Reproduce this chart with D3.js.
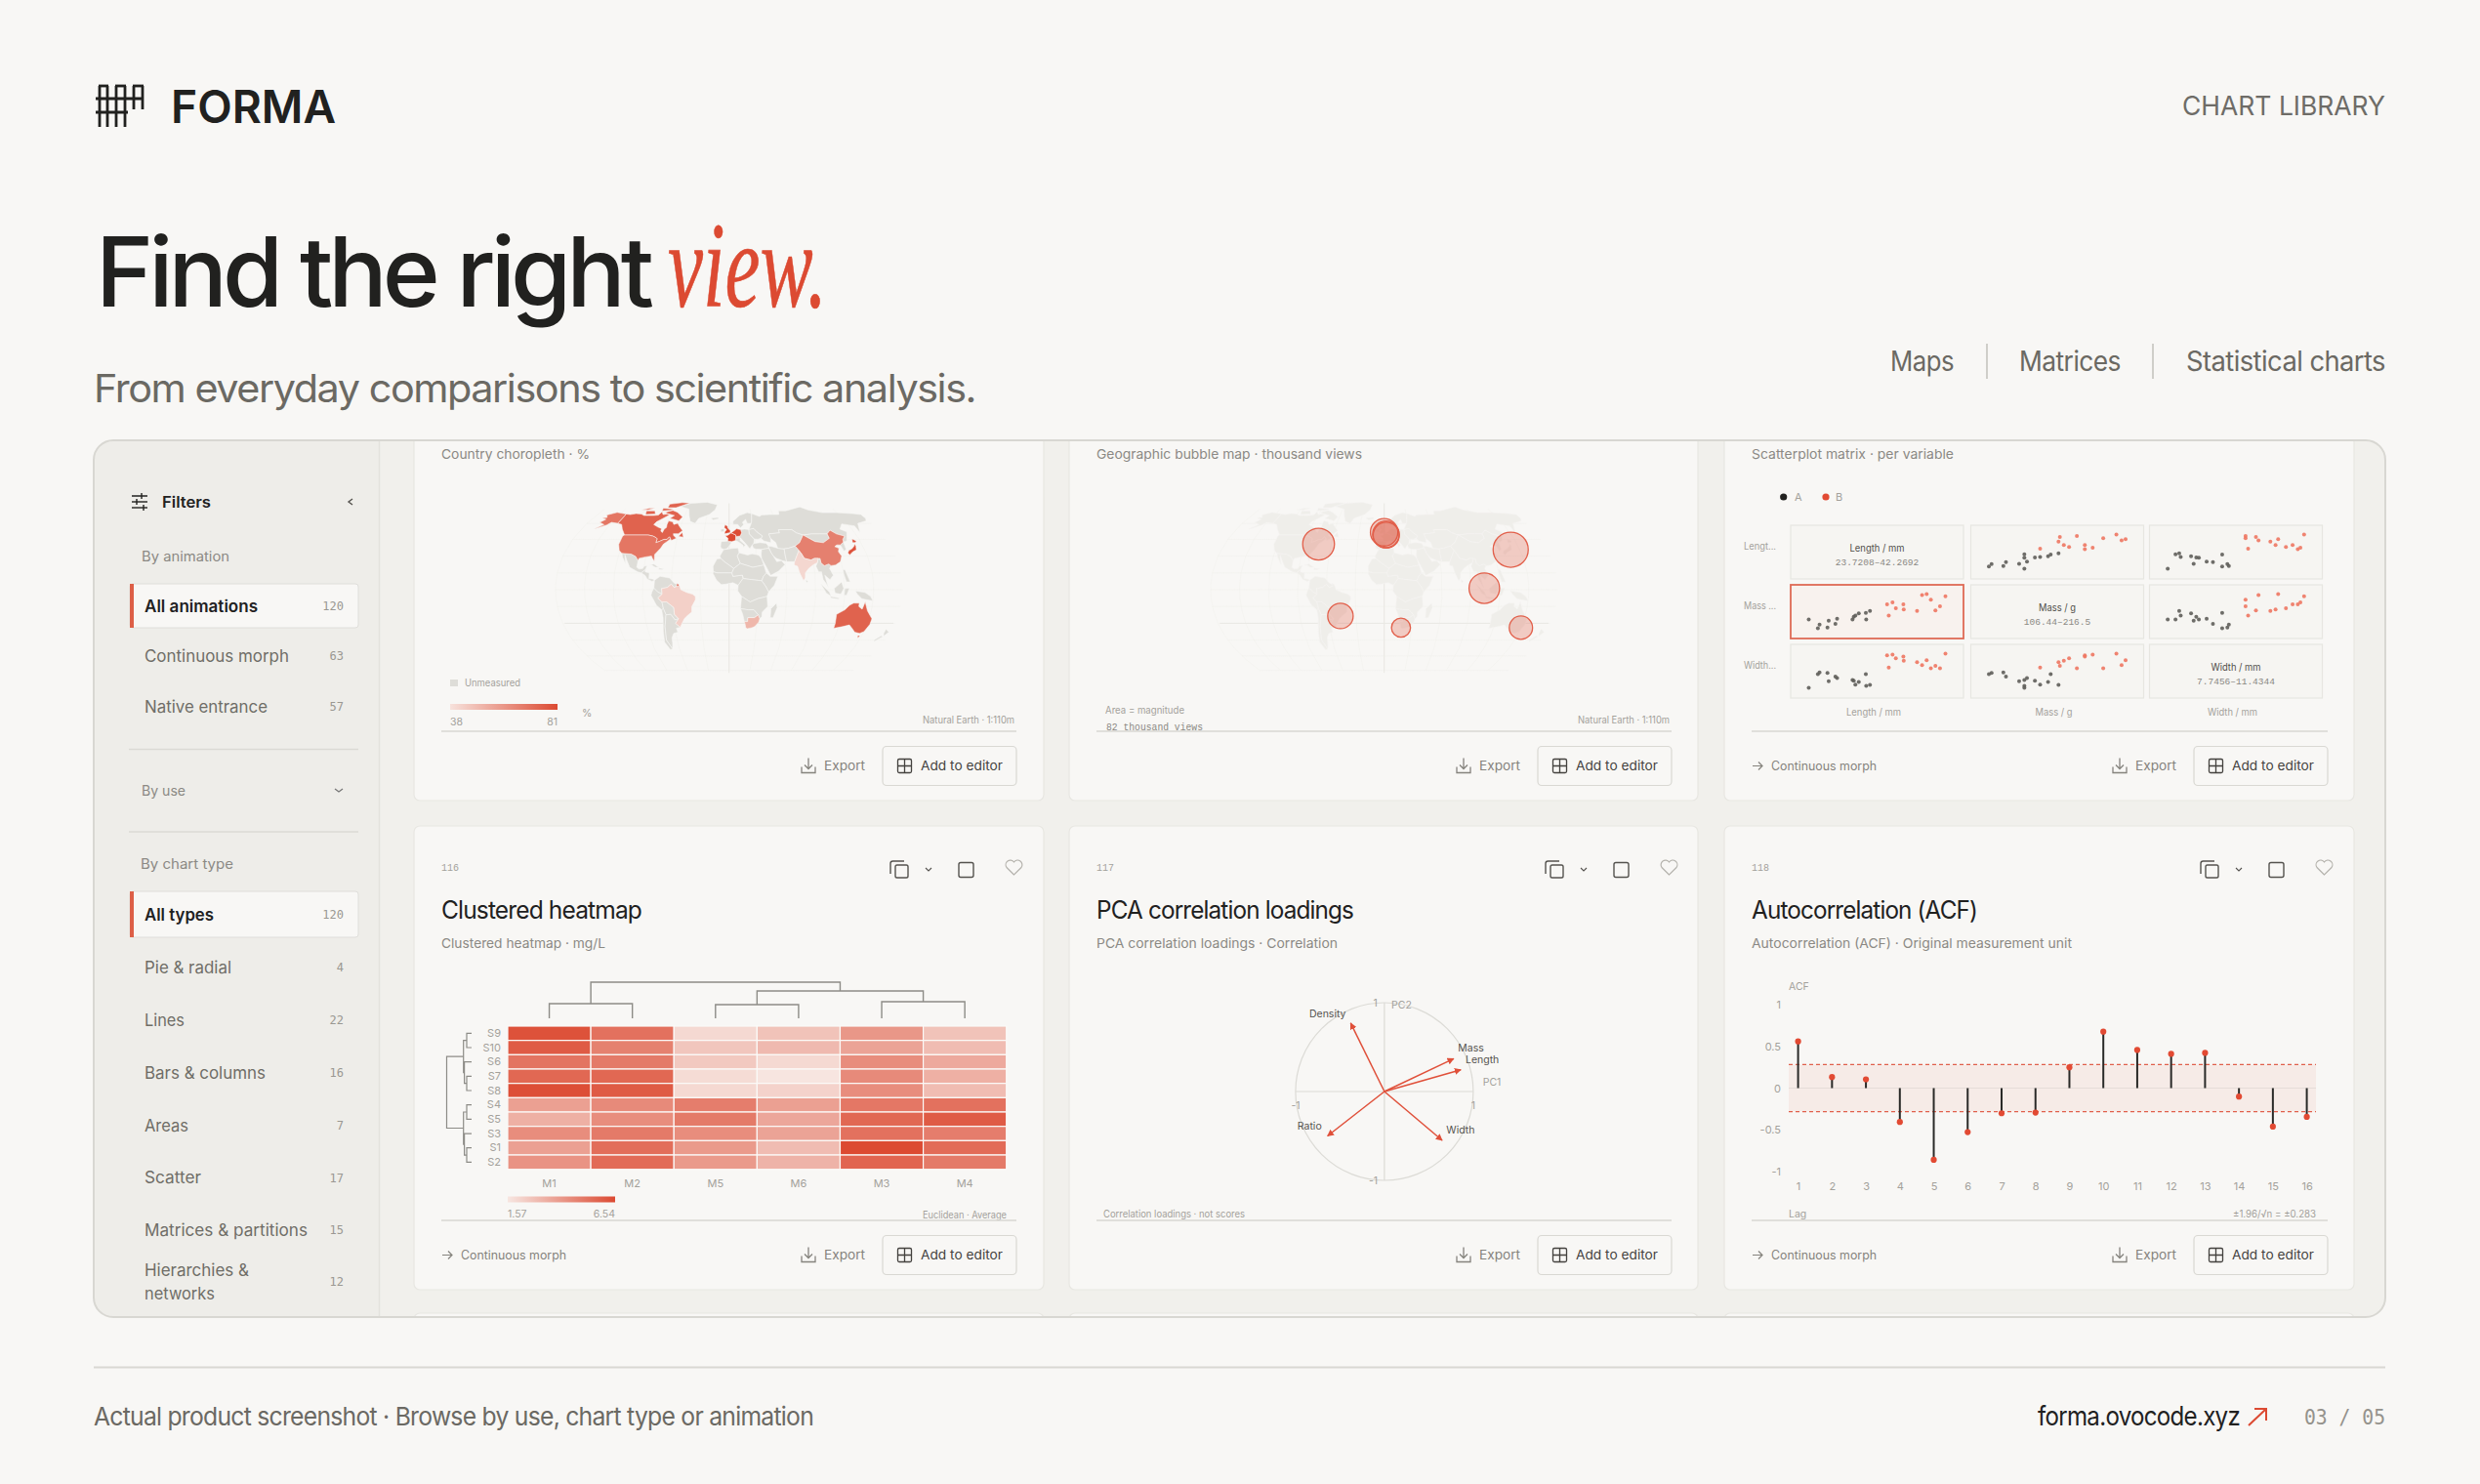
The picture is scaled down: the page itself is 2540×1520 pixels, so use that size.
<!DOCTYPE html>
<html><head><meta charset="utf-8">
<script src="https://cdn.jsdelivr.net/npm/d3@7/dist/d3.min.js"></script>
<style>html,body{margin:0;padding:0;background:#f8f7f5}svg{display:block}text{font-family:Inter,sans-serif}</style>
</head><body><div id="c"></div>
<script>
// ---------- DATA ----------
const sidebarAnimation=["All animations","Continuous morph","Native entrance"];
const sidebarAnimationCounts=[120,63,57];
const sidebarTypes=["All types","Pie & radial","Lines","Bars & columns","Areas","Scatter","Matrices & partitions"];
const sidebarTypeCounts=[120,4,22,16,7,17,15];
const navLinks=["Maps","Matrices","Statistical charts"];

// land rings, [lon,lat]
const canadaMain=[[-141,69.6],[-135,69],[-128,70],[-120,69.5],[-115,68],[-108,68],[-102,68],[-96,68.5],[-94,72],[-90,69],[-85,69.5],[-81,68.5],[-87,65],[-93,61.5],[-94.5,58.8],[-88,56.5],[-82.5,55],[-82,52.5],[-79.5,51.3],[-79,54.5],[-77,56],[-78,59],[-78,62.5],[-72,61.5],[-69.5,59],[-65,60.2],[-62,57.5],[-56,53],[-60,50.2],[-66,50.2],[-65,48.5],[-61,46],[-66,44],[-67.5,45.5],[-69.5,47.3],[-71.5,45],[-75,45],[-79,43.3],[-83,42],[-83,45.5],[-84.5,46.5],[-89,48],[-95,49],[-123,49],[-130,54.5],[-135,59],[-141,60]];
const baffin=[[-80,73.5],[-72,71.5],[-62,66.5],[-65,62.5],[-72,64],[-78,65],[-74,68],[-85,70],[-89,71.5]];
const victoriaIsland=[[-117,73],[-105,73],[-101,69.5],[-114,69]];
const ellesmere=[[-90,76.5],[-78,76.5],[-62,82.5],[-75,83],[-92,81]];
const devon=[[-96,76],[-80,75],[-84,73.5],[-95,73]];
const banks=[[-125,74],[-116,76],[-108,76],[-116,74]];
const newfoundland=[[-59,47.7],[-53,47],[-56,51.5]];
const usaMain=[[-123,49],[-95,49],[-89,48],[-84.5,46.5],[-83,45.5],[-83,42],[-79,43.3],[-75,45],[-71.5,45],[-69.5,47.3],[-67.5,45.5],[-70,43.5],[-74,40.7],[-76,37],[-81,31.5],[-80,25.5],[-82.5,28],[-84,30],[-90,29.3],[-97,28],[-97.5,26],[-101,29.7],[-106.5,31.8],[-117,32.5],[-121,35],[-124.3,40.5],[-124.5,48]];
const alaska=[[-141,69.6],[-156,71.3],[-166,68.5],[-162,66],[-168,65.5],[-161,64],[-165,61],[-157,58.8],[-165,54.5],[-153,58.5],[-150,61],[-141,60]];
const mexico=[[-117,32.5],[-106.5,31.8],[-101,29.7],[-97.5,26],[-97.5,20],[-95,18.5],[-91,19],[-90,21],[-87,21.5],[-88,18],[-92,15],[-96,16],[-105,20],[-109,25.5],[-113,31],[-112,28],[-110,23],[-115,29]];
const centralAmerica=[[-92,15],[-88,18],[-88,16],[-83.5,15],[-83.5,10],[-79,9.5],[-77.5,8.5],[-80,7.5],[-85,9.5],[-88,13]];
const cuba=[[-84.5,22],[-80,23],[-74.5,20.2],[-78,20],[-82,22]];
const hispaniola=[[-74,19.5],[-68.5,18.5],[-71,18],[-74,18.2]];
const greenland=[[-73,78],[-60,82],[-35,83.5],[-18,80],[-20,74],[-27,69],[-40,65],[-43,60],[-50,62],[-54,68],[-58,75]];
const brazil=[[-69.5,-4],[-70,1],[-64,2],[-60,5],[-57,2],[-51.5,4],[-50,0],[-44,-2.5],[-38,-4],[-35,-6],[-35,-9],[-39,-15],[-39.5,-20],[-44,-23],[-48,-26],[-53.5,-33.5],[-58,-30],[-54,-26],[-58,-22],[-58,-16],[-65,-11],[-70,-11],[-74,-7.5]];
const northSouthAmerica=[[-77.5,8.5],[-72,12],[-62,10.5],[-57,6],[-51.5,4],[-57,2],[-60,5],[-64,2],[-70,1],[-69.5,-4],[-74,-2],[-78,1.5]];
const frenchGuiana=[[-54,5.7],[-51.6,4.2],[-52.8,2.2],[-54.5,2.4]];
const peruEcuador=[[-78,1.5],[-74,-2],[-69.5,-4],[-74,-7.5],[-70,-11],[-69,-17],[-71,-18],[-76,-14],[-81,-5],[-80,-2]];
const boliviaParaguay=[[-70,-11],[-65,-11],[-58,-16],[-58,-22],[-54,-26],[-58,-27],[-62,-22],[-67,-22.5],[-69,-17]];
const chile=[[-69,-17],[-67,-22.5],[-70,-33],[-72,-45],[-68,-53],[-71,-54],[-75,-47],[-73,-37],[-70.5,-25],[-71,-18]];
const argentina=[[-67,-22.5],[-62,-22],[-58,-27],[-54,-26],[-58,-30],[-53.5,-33.5],[-58,-34.5],[-57,-38],[-62,-39],[-65,-43],[-66,-48],[-68,-53],[-72,-45],[-70,-33]];
const maghreb=[[-6,35.8],[3,36.8],[10,37.3],[11,33],[9,30],[12,23.5],[5,19],[-5,25],[-9,28],[-10,30]];
const sahel=[[-9,28],[-5,25],[5,19],[3,15],[-5,15],[-12,15],[-16.5,16],[-17,21],[-13,27.5]];
const westAfrica=[[-16.5,16],[-12,15],[-5,15],[3,15],[4,12],[14,13],[14.5,10],[9.5,4],[4,6.3],[-3,5],[-8,4.5],[-13,8.5],[-17,14.7]];
const libyaEgypt=[[11,33],[20,31],[25,32],[32,31],[35,28],[37,22],[25,20],[14,23],[12,23.5],[9,30]];
const chadSudan=[[5,19],[12,23.5],[14,23],[25,20],[37,22],[39,15],[36,12],[34,8],[24,9],[15,10],[14,13],[4,12],[3,15]];
const horn=[[39,15],[43,12],[51,12],[47,4],[41,-2],[38,3],[34,8],[36,12]];
const centralAfrica=[[9.5,4],[14.5,10],[15,10],[24,9],[34,8],[38,3],[41,-2],[39.5,-6],[30,-8],[22,-11],[13,-6],[9,-1]];
const southCentralAfrica=[[13,-6],[22,-11],[30,-8],[39.5,-6],[40.5,-15],[35,-20],[35,-24],[32.9,-26],[31,-22.5],[26,-18],[20,-18],[12,-17]];
const namibiaBotswana=[[12,-17],[20,-18],[26,-18],[31,-22.5],[27,-25],[20,-25],[20,-28.5],[16.5,-28.5],[14.5,-22]];
const southAfrica=[[16.5,-28.5],[20,-28.5],[20,-25],[27,-25],[31,-22.5],[32.9,-26],[32,-29],[28,-33],[25,-34],[20,-34.8],[18.3,-34],[17.5,-31]];
const madagascar=[[49.5,-12],[50.5,-16],[47,-25],[44,-25],[44,-17]];
const iberia=[[-9,43],[-2,43.5],[3,42.3],[0,39],[-2,36.8],[-5.5,36],[-9,37],[-9.5,39]];
const france=[[-1.5,43.5],[-1.2,46],[-4.7,48.4],[-1.5,48.7],[2.5,51],[8,49],[7.5,44],[3,43]];
const britain=[[-5.5,50],[1.5,51.2],[1.5,53],[-1.5,55.5],[-2,57.5],[-5,58.6],[-6,56],[-3,54],[-5,52]];
const ireland=[[-10,52],[-6,52.2],[-6,55],[-10,54.3]];
const iceland=[[-24,65.5],[-14,66],[-14,64.5],[-21,63.5]];
const germany=[[2.5,51],[7,53.5],[9,54.8],[14,54],[15,51],[13,48],[8,47.5],[8,49]];
const italy=[[7.5,44],[8,46.3],[13,46.5],[12.5,44],[18.3,40],[16,38],[15.5,40],[11,42.5]];
const eastEurope=[[14,54],[19,54.5],[24,54],[24,50],[29,45.3],[28,41.3],[26,40],[23,36.5],[20,40],[13,46.5],[8,46.3],[8,47.5],[13,48],[15,51]];
const scandinavia=[[5,59],[5,62],[14,68],[25,71],[31,70],[29,62],[28,60],[23,60],[21.5,64],[17,61],[18.5,59],[14,55.5],[11,59]];
const russia=[[28,60],[29,62],[31,70],[41,67],[44,68.5],[55,69],[68,69],[70,73],[80,73],[105,77.5],[113,74],[130,71],[150,71],[170,70],[180,69],[180,65],[177,62.5],[163,60],[156,51],[156,57.5],[142,59.5],[135,54.5],[141,52],[135,44],[131,42.5],[131,45],[135,48],[127,50],[122,53.5],[116,50],[107,50],[98,50],[87,49],[80,51],[76,54],[60,54],[60,51],[47,50],[48,46],[47.5,42],[40,43.5],[37,46],[39,48],[33,52],[30,55],[24,54]];
const ukraineBelarus=[[24,54],[30,55],[33,52],[39,48],[37,46],[33,45],[29,45.3],[24,50]];
const turkey=[[26,40],[28,41.3],[35,42],[42,41.5],[44,39],[44,37],[36,36],[30,36.2],[27,37]];
const iran=[[44,39],[48,38.5],[54,37],[61,36.5],[61,30],[61.5,25],[57,26],[51,28],[48,30],[46,33],[44.5,37]];
const arabia=[[36,36],[44,37],[46,33],[48,30],[51,25],[56,26],[59.5,22.5],[52,16.5],[43.5,12.8],[39,21],[35,28],[35,32]];
const centralAsia=[[47,50],[60,51],[60,54],[76,54],[80,51],[87,49],[80,42],[74,39],[66,37],[61,36.5],[54,37],[53,42],[48,46]];
const pakistanAfghan=[[61,36.5],[66,37],[74,39],[77,35],[74,31],[70,25],[67,25],[61.5,25],[61,30]];
const india=[[74,31],[77,35],[79,32],[81,28],[88,26.5],[92,28],[96,28],[94,24],[91,23],[89,22],[84,19],[80,15],[79.5,10.5],[77.5,8],[74,15],[72.5,21],[69,22],[70,25]];
const china=[[74,39],[80,42],[87,49],[98,43],[107,42],[116,46],[116,50],[122,53.5],[127,50],[135,48],[131,45],[130,42.5],[125,40],[121,40],[118,38.5],[122,37],[120,34],[122,30],[119,25],[113,22],[108,21.5],[106,23],[101,21.5],[98,24],[98,28],[92,28],[88,26.5],[81,28],[79,32],[77,35]];
const mongolia=[[87,49],[98,50],[107,50],[116,50],[116,46],[107,42],[98,43]];
const southeastAsia=[[92,21],[94,24],[96,28],[98,28],[98,24],[101,21.5],[106,23],[108,21.5],[106,19],[109,13],[105,9],[100,13],[103,2],[100.5,6],[98,9],[97,16],[94,16]];
const korea=[[125,40],[130,42.5],[129.5,36],[126.5,34.5]];
const honshu=[[130,33],[132,35],[136,36.5],[140,39],[141.5,41],[142,39],[140.5,35.5],[136,34],[131,31]];
const hokkaido=[[140,42],[142,45.5],[145.5,43.5],[143,42]];
const sumatra=[[95,5.5],[104,-2],[106,-6],[101,-3]];
const java=[[105,-6],[114.5,-7.5],[114,-8.5],[106,-7.5]];
const borneo=[[109,1],[117,7],[119,1],[116,-4],[110,-3]];
const sulawesi=[[120,1],[125,1.5],[122,-5],[119.5,-5]];
const newGuinea=[[131,-1],[141,-2.5],[147,-6],[150,-10],[143,-9],[138,-8],[133,-4]];
const philippines=[[120,18],[122,18],[124,12],[126,7],[122,7],[120,14]];
const sriLanka=[[80,9.5],[82,7.5],[80.5,6]];
const australia=[[114,-22],[122,-18],[126,-14],[130,-12],[136,-12],[136,-15],[140,-17.5],[142,-11],[146,-19],[153,-26],[153,-31],[150,-37.5],[146,-39],[140,-38],[136,-35],[131,-31.5],[124,-33],[115,-34.5],[115,-30]];
const tasmania=[[145,-41],[148,-41],[147,-43.5]];
const nzNorth=[[173,-35],[178,-38],[175,-41.5],[173,-39]];
const nzSouth=[[172,-41],[174,-42],[168,-46.5],[167,-45]];
const unmeasuredRings=[greenland,mexico,centralAmerica,cuba,hispaniola,northSouthAmerica,peruEcuador,boliviaParaguay,chile,argentina,maghreb,sahel,westAfrica,libyaEgypt,chadSudan,horn,centralAfrica,southCentralAfrica,namibiaBotswana,madagascar,iberia,ireland,iceland,italy,eastEurope,scandinavia,russia,ukraineBelarus,turkey,iran,arabia,centralAsia,pakistanAfghan,mongolia,southeastAsia,korea,sumatra,java,borneo,sulawesi,newGuinea,philippines,sriLanka,nzNorth,nzSouth];
const measuredNames=["Canada","USA","UK","France","Germany","China","India","Brazil","South Africa","Japan","Australia"];
const measuredValues=[74,69,81,81,80,66,42,44,51,79,74];
const measuredRings=[[canadaMain,baffin,victoriaIsland,ellesmere,devon,banks,newfoundland],[usaMain,alaska],[britain],[france,frenchGuiana],[germany],[china],[india],[brazil],[southAfrica],[honshu,hokkaido],[australia,tasmania]];

const bubbleCities=["New York","London","Paris","Amsterdam","Tokyo","Singapore","São Paulo","Cape Town","Sydney"];
const bubbleLon=[-74,-0.1,2.35,2,139.7,103.8,-46.6,18.4,150];
const bubbleLat=[40.7,51.5,48.85,49.6,35.7,1.35,-23.5,-33.9,-33.9];
const bubbleViews=[67,50,45,47,82,62,43,24,36];

const splomVars=["Length / mm","Mass / g","Width / mm"];
const splomShort=["Lengt...","Mass ...","Width..."];
const splomRanges=["23.7208–42.2692","106.44–216.5","7.7456–11.4344"];
const splomGroups=["A","A","A","A","A","A","A","A","A","A","A","A","A","A","B","B","B","B","B","B","B","B","B","B","B","B","B"];
const lengthVals=[23.72,25.19,24.96,26.43,26.26,27.57,27.34,29.66,29.83,30.05,30.51,31.47,32.03,31.52,34.35,35.09,34.58,35.54,36.56,36.61,38.42,39.10,39.72,40.29,42.27,41.53,40.91];
const massVals=[135,118.1,106.44,130.8,108.6,137.1,120.2,135,143.5,147.7,154.1,156.2,162.5,135,183.7,190,147.7,171,183.7,166.8,162.5,213.3,216.5,198.5,209.1,177.3,163.6];
const widthVals=[7.75,9.4,9.22,8.45,9.36,8.8,8.97,8.59,8.52,8.1,8.38,9.22,8.06,7.96,11.26,11.33,9.92,10.94,11.12,10.66,10.52,10.2,10.73,9.85,11.43,9.85,10.13];
const splomDomains=[[23.7208,42.2692],[106.44,216.5],[7.7456,11.4344]];

const heatCols=["M1","M2","M5","M6","M3","M4"];
const heatRows=["S9","S10","S6","S7","S8","S4","S5","S3","S1","S2"];
const heatValues=[
[6.3,5.3,2.0,2.7,4.1,2.7],
[6.0,4.8,2.6,3.0,3.7,2.9],
[5.2,5.0,2.5,2.0,4.4,3.5],
[5.6,5.6,1.9,1.6,4.5,3.3],
[6.4,6.0,2.0,2.2,4.4,2.9],
[3.8,4.5,4.9,3.8,5.1,5.3],
[3.3,4.4,5.0,3.6,5.6,6.0],
[4.4,5.0,4.4,3.7,5.3,4.9],
[3.8,5.4,4.0,2.9,6.54,5.5],
[4.2,5.5,4.0,3.2,5.7,5.0]];
const colTree={h:3.7,k:[{h:1.5,k:["M1","M2"]},{h:2.8,k:[{h:1.4,k:["M5","M6"]},{h:1.7,k:["M3","M4"]}]}]};
const rowTree={h:25.5,k:[{h:8.3,k:[{h:5,k:["S9","S10"]},{h:7.4,k:["S6",{h:5,k:["S7","S8"]}]}]},{h:8.3,k:[{h:5,k:["S4","S5"]},{h:7.4,k:["S3",{h:5,k:["S1","S2"]}]}]}]};

const pcaVars=["Density","Mass","Length","Ratio","Width"];
const pcaPC1=[-0.38,0.78,0.86,-0.64,0.65];
const pcaPC2=[0.77,0.37,0.245,-0.50,-0.55];

const acfLags=[1,2,3,4,5,6,7,8,9,10,11,12,13,14,15,16];
const acfValues=[0.559,0.133,0.105,-0.406,-0.859,-0.527,-0.301,-0.293,0.25,0.676,0.457,0.41,0.422,-0.102,-0.461,-0.344];
const acfLimit=0.283;
const acfTicks=[1,0.5,0,-0.5,-1];

// ---------- HELPERS ----------
const INK="#21211f",GREY="#6f6d67",MID="#8b8984",SOFT="#a3a19b",RED="#dc4a32",LINE="#d9d8d3";
const MONO="'DejaVu Sans Mono',monospace",MONO2="'Liberation Mono',monospace";
const svg=d3.select("#c").append("svg").attr("width",2540).attr("height",1520).attr("viewBox","0 0 2540 1520");
const defs=svg.append("defs");
function T(g,x,y,s,o={}){
  const t=g.append("text").attr("x",x).attr("y",y).text(s)
    .attr("font-size",o.size||13).attr("fill",o.fill||GREY).attr("font-weight",o.w||400)
    .attr("text-anchor",o.anchor||"start");
  if(o.fam)t.style("font-family",o.fam);
  if(o.c)t.attr("dy",".36em");
  if(o.italic)t.attr("font-style","italic");
  if(o.ls)t.style("letter-spacing",o.ls);
  if(o.len)t.attr("textLength",o.len).attr("lengthAdjust","spacingAndGlyphs");
  return t;
}
function styleAxis(a,size,fill){
  a.select(".domain").remove();a.selectAll(".tick line").remove();
  a.selectAll("text").attr("font-size",size).attr("fill",fill).style("font-family","Inter,sans-serif");
}
function gradient(id,a,b){const g=defs.append("linearGradient").attr("id",id);g.append("stop").attr("offset",0).attr("stop-color",a);g.append("stop").attr("offset",1).attr("stop-color",b);}
gradient("mapRamp","#f7e2dc","#dc4a32");gradient("heatRamp","#f7e6e1","#dc4a32");

// ---------- PAGE ----------
svg.append("rect").attr("width",2540).attr("height",1520).attr("fill","#f8f7f5");
// logo
const logo=svg.append("g").attr("stroke",INK).attr("stroke-width",2.8).attr("fill","none");
[102,110,119,128].forEach(x=>logo.append("line").attr("x1",x).attr("x2",x).attr("y1",88).attr("y2",130));
[137,146].forEach(x=>logo.append("line").attr("x1",x).attr("x2",x).attr("y1",88).attr("y2",112));
[[102,110],[119,128],[137,146]].forEach(p=>logo.append("line").attr("x1",p[0]-1).attr("x2",p[1]+1).attr("y1",88).attr("y2",88));
logo.append("line").attr("x1",98).attr("x2",147).attr("y1",101).attr("y2",101);
logo.append("line").attr("x1",98).attr("x2",131).attr("y1",115).attr("y2",115);
T(svg,175,126,"FORMA",{size:47,w:600,fill:INK,len:169});
T(svg,2443,118,"CHART LIBRARY",{size:27,anchor:"end",fill:"#6e6c67",len:208});
T(svg,98,314,"Find the right",{size:99,w:500,fill:INK,ls:"-0.05em",len:567});
T(svg,684,314,"view.",{size:124,fill:RED,italic:true,fam:"'Liberation Serif',serif",len:163}).attr("stroke",RED).attr("stroke-width",.6);
T(svg,96,412,"From everyday comparisons to scientific analysis.",{size:40,fill:"#6b6963",ls:"-0.035em",len:903});
const navX=[1936,2068,2239],navW=[65,104,204];
navLinks.forEach((n,i)=>T(svg,navX[i],380,n,{size:28,fill:"#6b6963",ls:"-0.02em",len:navW[i]}));
[2035,2205].forEach(x=>svg.append("line").attr("x1",x).attr("x2",x).attr("y1",352).attr("y2",388).attr("stroke","#cfcec9").attr("stroke-width",2));
// footer
svg.append("line").attr("x1",96).attr("x2",2443).attr("y1",1400.5).attr("y2",1400.5).attr("stroke",LINE).attr("stroke-width",2);
T(svg,96,1460,"Actual product screenshot · Browse by use, chart type or animation",{size:26,fill:"#6b6963",ls:"-0.03em",len:737});
T(svg,2087,1460,"forma.ovocode.xyz",{size:27,fill:INK,ls:"-0.03em",len:207});
svg.append("path").attr("d","M2303 1460L2321 1443M2309 1443H2321V1455").attr("fill","none").attr("stroke",RED).attr("stroke-width",2);
T(svg,2443,1459,"03 / 05",{size:22,anchor:"end",fill:"#94928c",fam:MONO,len:83});

// panel
defs.append("clipPath").attr("id","panelClip").append("rect").attr("x",96).attr("y",451).attr("width",2347).attr("height",898).attr("rx",20);
svg.append("rect").attr("x",96).attr("y",451).attr("width",2347).attr("height",898).attr("rx",20).attr("fill","#f1f0ec");
const P=svg.append("g").attr("clip-path","url(#panelClip)");
P.append("rect").attr("x",96).attr("y",451).attr("width",292).attr("height",898).attr("fill","#eeede9");
P.append("line").attr("x1",388.5).attr("x2",388.5).attr("y1",451).attr("y2",1349).attr("stroke","#e3e2dd").attr("stroke-width",1.5);

// sidebar
const SB=P.append("g");
const fi=SB.append("g").attr("stroke",INK).attr("stroke-width",1.4).attr("fill","none");
[[508,135,151,145],[514,135,151,140],[520,135,151,147]].forEach(r=>{fi.append("line").attr("x1",r[1]).attr("x2",r[2]).attr("y1",r[0]).attr("y2",r[0]);fi.append("line").attr("x1",r[3]).attr("x2",r[3]).attr("y1",r[0]-3).attr("y2",r[0]+3);});
T(SB,166,514,"Filters",{size:16,w:600,fill:INK,c:1,len:50});
SB.append("path").attr("d","M361 511L357 514L361 517").attr("fill","none").attr("stroke","#55534f").attr("stroke-width",1.4);
T(SB,145,570,"By animation",{size:14,fill:MID,c:1,len:90});
function activeRow(cy,h,label,count,len){
  SB.append("rect").attr("x",133).attr("y",cy-h/2).attr("width",234).attr("height",h).attr("rx",3).attr("fill","#f8f7f5").attr("stroke","#dfdeda");
  SB.append("rect").attr("x",133).attr("y",cy-h/2).attr("width",4).attr("height",h).attr("fill","#dd5f47");
  T(SB,148,cy,label,{size:17,w:600,fill:INK,c:1,len});
  T(SB,352,cy,count,{size:12,anchor:"end",fill:"#9a9892",c:1,fam:MONO});
}
function plainRow(cy,label,count,len){
  T(SB,148,cy,label,{size:17,fill:GREY,c:1,len});
  T(SB,352,cy,count,{size:12,anchor:"end",fill:"#9a9892",c:1,fam:MONO});
}
const animLen=[116,148,126];
sidebarAnimation.forEach((s,i)=>{const y=i==0?620.5:672+(i-1)*51.5;
  i==0?activeRow(y,45,s,sidebarAnimationCounts[i],animLen[i]):plainRow(y,s,sidebarAnimationCounts[i],animLen[i]);});
[767.5,852].forEach(y=>SB.append("line").attr("x1",132).attr("x2",367).attr("y1",y).attr("y2",y).attr("stroke","#dbdad5").attr("stroke-width",1.5));
T(SB,145,810,"By use",{size:14,fill:MID,c:1,len:45});
SB.append("path").attr("d","M343 808L347 811L351 808").attr("fill","none").attr("stroke","#777").attr("stroke-width",1.3);
T(SB,144,885,"By chart type",{size:14,fill:MID,c:1,len:95});
const typeLen=[71,89,41,124,45,58,167];
sidebarTypes.forEach((s,i)=>{const y=i==0?936.5:991+(i-1)*53.8;
  i==0?activeRow(y,47,s,sidebarTypeCounts[i],typeLen[i]):plainRow(y,s,sidebarTypeCounts[i],typeLen[i]);});
T(SB,148,1301,"Hierarchies &",{size:17,fill:GREY,c:1,len:107});
T(SB,148,1325,"networks",{size:17,fill:GREY,c:1,len:72});
T(SB,352,1313,"12",{size:12,anchor:"end",fill:"#9a9892",c:1,fam:MONO});

// cards
function card(x,y0,x1,y1){
  P.append("rect").attr("x",x).attr("y",y0).attr("width",x1-x).attr("height",y1-y0).attr("rx",6).attr("fill","#f8f7f5").attr("stroke","#e8e7e2").attr("stroke-width",1.2);
}
const cardL=[424,1095,1766],cardR=[1069,1739,2411];
cardL.forEach((x,i)=>{card(x,430,cardR[i],820);card(x,846,cardR[i],1321);card(x,1345,cardR[i],1400);});

function footer(left,right,y,morph){
  const bw=137,bl=right-bw,cy=y+35.5;
  P.append("line").attr("x1",left).attr("x2",right).attr("y1",y).attr("y2",y).attr("stroke","#d8d7d2").attr("stroke-width",1.4);
  P.append("rect").attr("x",bl).attr("y",y+15.5).attr("width",bw).attr("height",40).attr("rx",4).attr("fill","#f8f7f5").attr("stroke","#d9d8d3").attr("stroke-width",1.2);
  const g=P.append("g").attr("fill","none").attr("stroke","#44423f").attr("stroke-width",1.3);
  g.append("rect").attr("x",bl+15.5).attr("y",cy-7).attr("width",14).attr("height",14).attr("rx",1.5);
  g.append("path").attr("d",`M${bl+22.5} ${cy-7}V${cy+7}M${bl+15.5} ${cy}H${bl+29.5}`);
  T(P,bl+39,cy,"Add to editor",{size:13,fill:"#44423f",c:1,len:84});
  const e=P.append("g").attr("fill","none").attr("stroke","#85837d").attr("stroke-width",1.3);
  e.append("path").attr("d",`M${bl-83} ${cy+1}v6h14v-6M${bl-76} ${cy-8}v11M${bl-80} ${cy-1}l4 4l4-4`);
  T(P,bl-60,cy,"Export",{size:13,fill:"#85837d",c:1,len:42});
  if(morph){
    const a=P.append("g").attr("fill","none").attr("stroke","#85837d").attr("stroke-width",1.2);
    a.append("path").attr("d",`M${left+1} ${cy}h10M${left+7} ${cy-4}l4 4l-4 4`);
    T(P,left+20,cy,"Continuous morph",{size:12.5,fill:"#85837d",c:1,len:108});
  }
}
function head(cardX,left,num,title,tLen,sub,sLen){
  T(P,left,888,num,{size:11,fill:SOFT,c:1,fam:MONO2,len:18});
  T(P,left,941,title,{size:25,fill:INK,ls:"-0.035em",len:tLen});
  T(P,left,971,sub,{size:13.5,fill:MID,len:sLen});
  const g=P.append("g").attr("fill","none").attr("stroke","#55534f").attr("stroke-width",1.4);
  g.append("rect").attr("x",cardX+493).attr("y",886).attr("width",13).attr("height",13).attr("rx",1.8);
  g.append("path").attr("d",`M${cardX+488} 895V884.5a2.5 2.5 0 0 1 2.5-2.5H${cardX+502}`);
  g.append("path").attr("d",`M${cardX+524} 889l3 3l3-3`).attr("stroke-width",1.1);
  g.append("rect").attr("x",cardX+558).attr("y",883.5).attr("width",15).attr("height",15).attr("rx",2);
  const hx=cardX+614.5;
  P.append("path").attr("d",`M${hx} 896l-7.5-7.5a4.6 4.6 0 0 1 7.5-5.5a4.6 4.6 0 0 1 7.5 5.5z`).attr("fill","none").attr("stroke","#b5b3ad").attr("stroke-width",1.2);
}

// -------- Maps --------
function mapGroup(cx){
  const proj=d3.geoNaturalEarth1().scale(65).translate([cx,604]);
  const path=d3.geoPath(proj);
  const g=P.append("g");
  g.append("path").attr("d",path(d3.geoGraticule().step([30,15]).extent([[-180,-75],[180,75]])()))
    .attr("fill","none").attr("stroke","#eeede8").attr("stroke-width",.6).attr("opacity",.6);
  const line=d3.line();
  g.append("path").attr("d",line([proj([-178,-30]),proj([178,-30])])).attr("fill","none").attr("stroke","#e9e8e3").attr("stroke-width",1);
  g.append("path").attr("d",line([proj([0,-78]),proj([0,82])])).attr("fill","none").attr("stroke","#e9e8e3").attr("stroke-width",1);
  const ringPath=r=>line(r.map(proj))+"Z";
  return {g,proj,ringPath};
}
{
  const M=mapGroup(746.7);
  const colorMap=d3.scaleLinear().domain([38,81]).range(["#f7e6e0",RED]);
  M.g.selectAll(".u").data(unmeasuredRings).join("path").attr("d",M.ringPath).attr("fill","#deddd8").attr("stroke","#f8f7f5").attr("stroke-width",.55);
  measuredNames.forEach((n,i)=>{
    M.g.selectAll(null).data(measuredRings[i]).join("path").attr("d",M.ringPath).attr("fill",colorMap(measuredValues[i])).attr("stroke","#f8f7f5").attr("stroke-width",.55);
  });
  T(P,452,470,"Country choropleth · %",{size:13.5,fill:MID,len:152});
  P.append("rect").attr("x",461).attr("y",696).attr("width",8).attr("height",7).attr("fill","#deddd8");
  T(P,476,699.5,"Unmeasured",{size:10.5,fill:SOFT,c:1,len:57});
  P.append("rect").attr("x",461).attr("y",721).attr("width",110).attr("height",6).attr("fill","url(#mapRamp)");
  T(P,461,743,"38",{size:10.5,fill:SOFT});
  T(P,571,743,"81",{size:10.5,fill:SOFT,anchor:"end"});
  T(P,596,730,"%",{size:10.5,fill:SOFT,c:1});
  T(P,1039,741,"Natural Earth · 1:110m",{size:10.5,fill:SOFT,anchor:"end",len:94});
  footer(452,1041,749,false);
}
{
  const M=mapGroup(1417.7);
  M.g.selectAll(".u").data(unmeasuredRings.concat(measuredRings.flat())).join("path").attr("d",M.ringPath).attr("fill","#efeeea").attr("stroke","#f5f4f1").attr("stroke-width",.6);
  const rScale=d3.scaleSqrt().domain([0,82]).range([0,18]);
  M.g.selectAll("circle").data(bubbleCities).join("circle")
    .attr("cx",(d,i)=>M.proj([bubbleLon[i],bubbleLat[i]])[0]).attr("cy",(d,i)=>M.proj([bubbleLon[i],bubbleLat[i]])[1])
    .attr("r",(d,i)=>rScale(bubbleViews[i])).attr("fill","rgba(221,84,62,.27)").attr("stroke","#e2604b").attr("stroke-width",1.3);
  T(P,1123,470,"Geographic bubble map · thousand views",{size:13.5,fill:MID,len:272});
  T(P,1132,731,"Area = magnitude",{size:10.5,fill:SOFT,len:81});
  T(P,1133,747.5,"82 thousand views",{size:10,fill:"#8b8984",fam:MONO2,len:99});
  T(P,1710,741,"Natural Earth · 1:110m",{size:10.5,fill:SOFT,anchor:"end",len:94});
  footer(1123,1712,749,false);
}
// -------- Card 3: scatterplot matrix --------
{
  T(P,1794,470,"Scatterplot matrix · per variable",{size:13.5,fill:MID,len:207});
  P.append("circle").attr("cx",1826.7).attr("cy",509).attr("r",3.6).attr("fill",INK);
  T(P,1838,509,"A",{size:11,fill:SOFT,c:1});
  P.append("circle").attr("cx",1870).attr("cy",509).attr("r",3.6).attr("fill","#e24a33");
  T(P,1880,509,"B",{size:11,fill:SOFT,c:1});
  const vals=[lengthVals,massVals,widthVals];
  const varLen=[56,38,51];
  const colX=[1834,2018.5,2201.5],rowY=[538,599,660],cw=177,ch=55;
  splomVars.forEach((rv,r)=>{
    T(P,1819,rowY[r]+21,splomShort[r],{size:10.5,fill:SOFT,anchor:"end",c:1,len:33});
    splomVars.forEach((cv,c)=>{
      const hi=(r==1&&c==0);
      P.append("rect").attr("x",colX[c]).attr("y",rowY[r]).attr("width",cw).attr("height",ch)
        .attr("fill",hi?"#f8f2ee":"#f6f5f2").attr("stroke",hi?"#de6a55":"#e7e6e1").attr("stroke-width",hi?1.8:1.2);
      const cx=colX[c]+cw/2;
      if(r==c){
        T(P,cx,rowY[r]+23.5,rv,{size:10.5,fill:"#4f4d49",anchor:"middle",c:1,len:varLen[r]});
        T(P,cx,rowY[r]+38,splomRanges[r],{size:9.5,fill:MID,anchor:"middle",c:1,fam:MONO2});
      }else{
        const sx=d3.scaleLinear().domain(splomDomains[c]).range([colX[c]+18.5,colX[c]+cw-18.5]);
        const sy=d3.scaleLinear().domain(splomDomains[r]).range([rowY[r]+ch-10.5,rowY[r]+9.5]);
        P.selectAll(null).data(vals[c]).join("circle")
          .attr("cx",d=>sx(d)).attr("cy",(d,i)=>sy(vals[r][i])).attr("r",2)
          .attr("fill",(d,i)=>splomGroups[i]=="A"?"#5f5e5a":"#ee7762").attr("opacity",.9);
      }
    });
    T(P,colX[r]+cw/2-3.5,729,rv,{size:10.5,fill:SOFT,anchor:"middle",c:1,len:varLen[r]});
  });
  footer(1794,2384,749,true);
}
// -------- Card 4: clustered heatmap --------
{
  head(424,452,"116","Clustered heatmap",205,"Clustered heatmap · mg/L",168);
  const x=d3.scaleBand().domain(heatCols).range([520,1030.7]);
  const y=d3.scaleBand().domain(heatRows).range([1051,1197.7]);
  const col=d3.scaleLinear().domain([1.57,6.54]).range(["#f7e6e1",RED]);
  heatRows.forEach((r,i)=>{
    P.selectAll(null).data(heatCols).join("rect").attr("x",c=>x(c)).attr("y",y(r)).attr("width",x.bandwidth()).attr("height",y.bandwidth())
      .attr("fill",(c,j)=>col(heatValues[i][j])).attr("stroke","#fbfaf8").attr("stroke-width",1.2);
  });
  const ax=P.append("g").attr("transform","translate(0,1205)").call(d3.axisBottom(x).tickSize(0));
  styleAxis(ax,11,SOFT);
  const ay=P.append("g").attr("transform","translate(516,0)").call(d3.axisLeft(y).tickSize(0));
  styleAxis(ay,11,SOFT);
  const dendro=P.append("g").attr("fill","none").attr("stroke","#8d8c87").attr("stroke-width",1.4);
  const hy=d3.scaleLinear().domain([0,3.7]).range([1043,1006]);
  function walkTop(n){
    if(typeof n==="string")return {c:x(n)+x.bandwidth()/2,h:0};
    const a=walkTop(n.k[0]),b=walkTop(n.k[1]);
    dendro.append("path").attr("d",`M${a.c} ${hy(a.h)}V${hy(n.h)}H${b.c}V${hy(b.h)}`);
    return {c:(a.c+b.c)/2,h:n.h};
  }
  walkTop(colTree);
  const hx=d3.scaleLinear().domain([0,25.5]).range([483,457.5]);
  const dl=P.append("g").attr("fill","none").attr("stroke","#8d8c87").attr("stroke-width",1.2);
  function walkLeft(n){
    if(typeof n==="string")return {c:y(n)+y.bandwidth()/2,h:0};
    const a=walkLeft(n.k[0]),b=walkLeft(n.k[1]);
    dl.append("path").attr("d",`M${hx(a.h)} ${a.c}H${hx(n.h)}V${b.c}H${hx(b.h)}`);
    return {c:(a.c+b.c)/2,h:n.h};
  }
  walkLeft(rowTree);
  P.append("rect").attr("x",520).attr("y",1225.5).attr("width",110).attr("height",6).attr("fill","url(#heatRamp)");
  T(P,520,1246.5,"1.57",{size:10.5,fill:SOFT});
  T(P,630,1246.5,"6.54",{size:10.5,fill:SOFT,anchor:"end"});
  T(P,1031,1247.5,"Euclidean · Average",{size:10.5,fill:SOFT,anchor:"end",len:86});
  footer(452,1041,1250,true);
}
// -------- Card 5: PCA --------
{
  head(1095,1123,"117","PCA correlation loadings",263,"PCA correlation loadings · Correlation",247);
  const sx=d3.scaleLinear().domain([-1,1]).range([1417.9-91,1417.9+91]);
  const sy=d3.scaleLinear().domain([-1,1]).range([1118+91,1118-91]);
  P.append("circle").attr("cx",sx(0)).attr("cy",sy(0)).attr("r",91).attr("fill","none").attr("stroke","#dcdbd6").attr("stroke-width",1.2);
  P.append("line").attr("x1",sx(-1)).attr("x2",sx(1)).attr("y1",sy(0)).attr("y2",sy(0)).attr("stroke","#dcdbd6").attr("stroke-width",1.2);
  P.append("line").attr("x1",sx(0)).attr("x2",sx(0)).attr("y1",sy(-1)).attr("y2",sy(1)).attr("stroke","#dcdbd6").attr("stroke-width",1.2);
  defs.append("marker").attr("id","ah").attr("viewBox","0 0 10 10").attr("refX",9).attr("refY",5).attr("markerWidth",7).attr("markerHeight",7).attr("markerUnits","userSpaceOnUse").attr("orient","auto")
    .append("path").attr("d","M0 0L10 5L0 10z").attr("fill","#e0503a");
  P.selectAll(null).data(pcaVars).join("line").attr("x1",sx(0)).attr("y1",sy(0)).attr("x2",(d,i)=>sx(pcaPC1[i])).attr("y2",(d,i)=>sy(pcaPC2[i]))
    .attr("stroke","#e0503a").attr("stroke-width",1.5).attr("marker-end","url(#ah)");
  const labelDx=[-23.6,17.7,22,-18.4,18.8],labelDy=[-10,-11,-10,-10.6,-11.3];
  pcaVars.forEach((v,i)=>T(P,sx(pcaPC1[i])+labelDx[i],sy(pcaPC2[i])+labelDy[i],v,{size:10.5,fill:"#55534f",anchor:"middle",c:1}));
  [["1",1408.6,1027.7],["PC2",1435.5,1029],["PC1",1528,1108],["-1",1327,1132.7],["1",1508.8,1132.7],["-1",1406.5,1209.7]].forEach(a=>T(P,a[1],a[2],a[0],{size:10.5,fill:SOFT,anchor:"middle",c:1}));
  T(P,1130,1246.5,"Correlation loadings · not scores",{size:10.5,fill:SOFT,len:145});
  footer(1123,1712,1250,false);
}
// -------- Card 6: ACF --------
{
  head(1766,1794,"118","Autocorrelation (ACF)",231,"Autocorrelation (ACF) · Original measurement unit",328);
  const x=d3.scaleLinear().domain([1,16]).range([1841.6,2362.6]);
  const y=d3.scaleLinear().domain([-1,1]).range([1200,1029]);
  P.append("rect").attr("x",1832).attr("width",540).attr("y",y(acfLimit)).attr("height",y(-acfLimit)-y(acfLimit)).attr("fill","#f6ebe7");
  P.append("line").attr("x1",1832).attr("x2",2372).attr("y1",y(0)).attr("y2",y(0)).attr("stroke","#e6dcd8").attr("stroke-width",1.2);
  [acfLimit,-acfLimit].forEach(v=>P.append("line").attr("x1",1832).attr("x2",2372).attr("y1",y(v)).attr("y2",y(v)).attr("stroke","#e0604c").attr("stroke-width",1.2).attr("stroke-dasharray","4 3"));
  P.selectAll(null).data(acfLags).join("line").attr("x1",d=>x(d)).attr("x2",d=>x(d)).attr("y1",y(0)).attr("y2",(d,i)=>y(acfValues[i])).attr("stroke","#2a2a28").attr("stroke-width",2);
  P.selectAll(null).data(acfLags).join("circle").attr("cx",d=>x(d)).attr("cy",(d,i)=>y(acfValues[i])).attr("r",3.1).attr("fill","#e24a33");
  const ay=P.append("g").attr("transform","translate(1827,0)").call(d3.axisLeft(y).tickValues(acfTicks).tickSize(0).tickFormat(d=>String(d)));
  styleAxis(ay,11,SOFT);
  const ax=P.append("g").attr("transform","translate(0,1208)").call(d3.axisBottom(x).tickValues(acfLags).tickSize(0).tickFormat(d=>String(d)));
  styleAxis(ax,11,SOFT);
  T(P,1832,1010.7,"ACF",{size:10.5,fill:SOFT,c:1});
  T(P,1832,1247,"Lag",{size:10.5,fill:SOFT});
  T(P,2372,1247,"±1.96/√n = ±0.283",{size:10.5,fill:SOFT,anchor:"end",len:85});
  footer(1794,2384,1250,true);
}
// panel border on top
svg.append("rect").attr("x",96).attr("y",451).attr("width",2347).attr("height",898).attr("rx",20).attr("fill","none").attr("stroke","#d8d7d2").attr("stroke-width",2);
</script></body></html>
